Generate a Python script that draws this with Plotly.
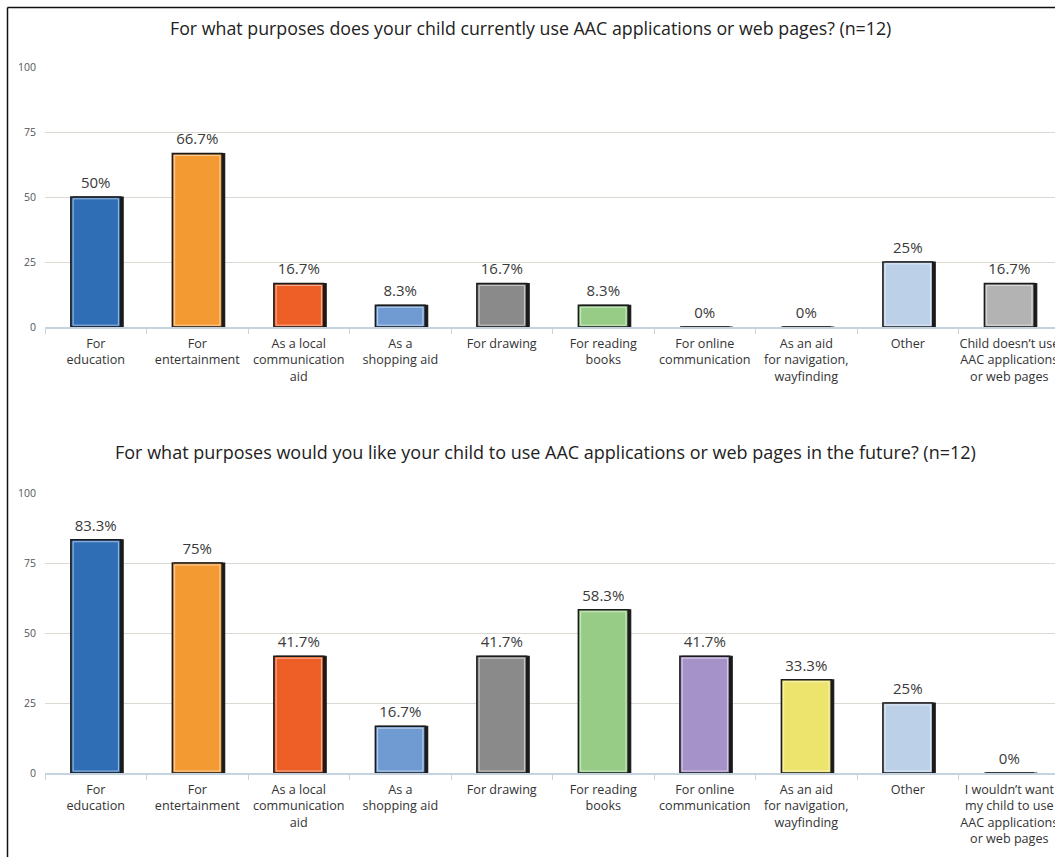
import plotly.graph_objects as go

# Category labels for each survey question
current_labels = [
    "For<br>education",
    "For<br>entertainment",
    "As a local<br>communication<br>aid",
    "As a<br>shopping aid",
    "For drawing",
    "For reading<br>books",
    "For online<br>communication",
    "As an aid<br>for navigation,<br>wayfinding",
    "Other",
    "Child doesn’t use<br>AAC applications<br>or web pages",
]
future_labels = [
    "For<br>education",
    "For<br>entertainment",
    "As a local<br>communication<br>aid",
    "As a<br>shopping aid",
    "For drawing",
    "For reading<br>books",
    "For online<br>communication",
    "As an aid<br>for navigation,<br>wayfinding",
    "Other",
    "I wouldn’t want<br>my child to use<br>AAC applications<br>or web pages",
]

# Percent of respondents (n=12)
current_pct = [50, 66.7, 16.7, 8.3, 16.7, 8.3, 0, 0, 25, 16.7]
future_pct = [83.3, 75, 41.7, 16.7, 41.7, 58.3, 41.7, 33.3, 25, 0]

bar_colors = [
    "#2f6db5", "#f39a33", "#ee5f27", "#6f9bd2", "#8a8a8a",
    "#97cc86", "#a592c8", "#ede46e", "#bcd0e8", "#b3b3b3",
]

y_ticks = [0, 25, 50, 75, 100]

titles = [
    "For what purposes does your child currently use AAC applications or web pages? (n=12)",
    "For what purposes would you like your child to use AAC applications or web pages in the future? (n=12)",
]

FONT = "Open Sans"
W, H = 1055, 857
ML = 45
BAR_W = 0.49
SHADOW_DX = 0.025
SHADOW_DY = 1.4
INSET_X = 0.022
INSET_Y = 0.7

fig = go.Figure()

panels = [
    (current_labels, current_pct, "x", "y"),
    (future_labels, future_pct, "x2", "y2"),
]

for labels, vals, xa, ya in panels:
    # drop shadow (black, shifted right/down)
    fig.add_trace(go.Bar(
        x=labels, y=[v + SHADOW_DY for v in vals], base=[-SHADOW_DY] * len(vals),
        width=BAR_W, offset=-BAR_W / 2 + SHADOW_DX,
        marker=dict(color="#1b1b1b", line=dict(color="#1b1b1b", width=1.2)),
        xaxis=xa, yaxis=ya, cliponaxis=False, hoverinfo="skip", showlegend=False,
    ))
    # main bars
    fig.add_trace(go.Bar(
        x=labels, y=vals, width=BAR_W, offset=-BAR_W / 2,
        marker=dict(color=bar_colors, line=dict(color="#1b1b1b", width=1.6)),
        xaxis=xa, yaxis=ya, cliponaxis=False, showlegend=False,
    ))
    # thin light inner edge
    fig.add_trace(go.Bar(
        x=labels, y=[max(v - 2 * INSET_Y, 0) for v in vals], base=[INSET_Y] * len(vals),
        width=BAR_W - 2 * INSET_X, offset=-BAR_W / 2 + INSET_X,
        marker=dict(color="rgba(0,0,0,0)", line=dict(color="rgba(255,255,255,0.55)", width=1)),
        xaxis=xa, yaxis=ya, cliponaxis=False, hoverinfo="skip", showlegend=False,
    ))
    # value labels
    fig.add_trace(go.Scatter(
        x=labels, y=vals, mode="markers+text",
        marker=dict(size=7, color="rgba(0,0,0,0)"),
        text=[f"{v:g}%" for v in vals], textposition="top center",
        textfont=dict(family=FONT, size=15, color="#3a3a3a"),
        xaxis=xa, yaxis=ya, cliponaxis=False, hoverinfo="skip", showlegend=False,
    ))


def py(px):
    return (H - px) / H


def pxx(px):
    return (px - ML) / (W - ML)


x_common = dict(
    type="category", range=[-0.5, 9.45], showgrid=False,
    tickson="boundaries", ticks="outside", ticklen=5, tickcolor="#c9d3de",
    showline=True, linecolor="#c5d2e0", linewidth=1.5,
    tickangle=0, automargin=False,
    tickfont=dict(family=FONT, size=12.6, color="#333333"),
    ticklabelstandoff=4, fixedrange=True,
)
y_common = dict(
    range=[0, 100], tickvals=y_ticks, showgrid=True, gridcolor="#dcd8d2",
    gridwidth=1.2, zeroline=False, showline=False, ticks="",
    tickfont=dict(family=FONT, size=10.5, color="#555555"),
    ticklabelstandoff=8, automargin=False, fixedrange=True,
)

fig.update_layout(
    width=W, height=H, autosize=False,
    margin=dict(l=ML, r=0, t=0, b=0, pad=0),
    paper_bgcolor="white", plot_bgcolor="white",
    barmode="overlay", bargap=0.5,
    xaxis=dict(domain=[0, 1], anchor="y", **x_common),
    yaxis=dict(domain=[py(327), py(67)], anchor="x", **y_common),
    xaxis2=dict(domain=[0, 1], anchor="y2", **x_common),
    yaxis2=dict(domain=[py(773), py(493)], anchor="x2", **y_common),
    annotations=[
        dict(text=titles[0], xref="paper", yref="paper", x=pxx(530), y=py(28),
             xanchor="center", yanchor="middle", showarrow=False,
             font=dict(family=FONT, size=17.8, color="#222222")),
        dict(text=titles[1], xref="paper", yref="paper", x=pxx(545), y=py(452),
             xanchor="center", yanchor="middle", showarrow=False,
             font=dict(family=FONT, size=18, color="#222222")),
    ],
    shapes=[
        dict(type="line", xref="paper", yref="paper",
             x0=pxx(7.5), x1=pxx(7.5), y0=py(857), y1=py(7.5),
             line=dict(color="#111111", width=1.5)),
        dict(type="line", xref="paper", yref="paper",
             x0=pxx(7.5), x1=pxx(1055), y0=py(7.5), y1=py(7.5),
             line=dict(color="#111111", width=1.5)),
    ],
)

fig.write_html("out.html")
